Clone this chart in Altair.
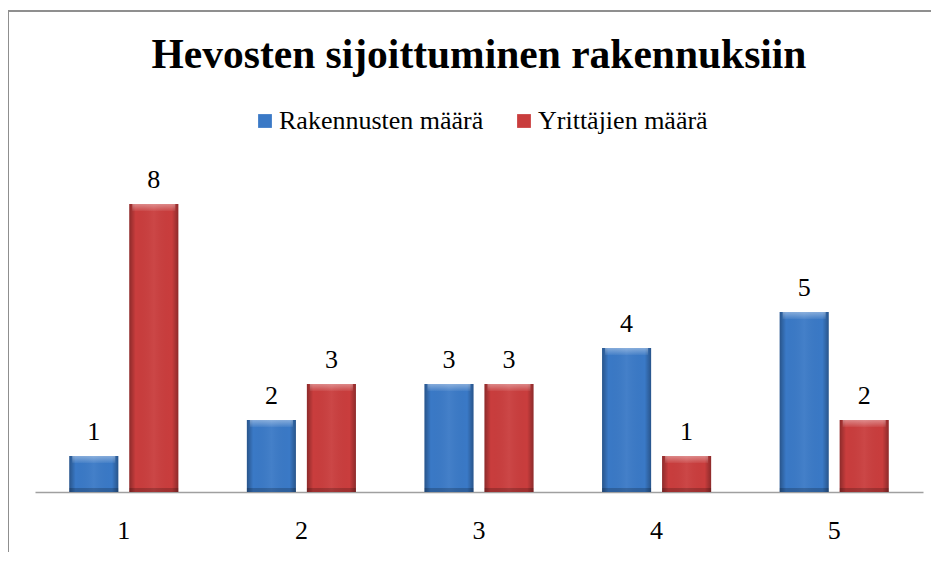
import altair as alt
import pandas as pd

categories = ["1", "2", "3", "4", "5"]
series_names = ["Rakennusten määrä", "Yrittäjien määrä"]
rakennusten = [1, 2, 3, 4, 5]
yrittajien = [8, 3, 3, 1, 2]
series_colors = ["#3a79c6", "#c93d3d"]

rows = []
for c, a, b in zip(categories, rakennusten, yrittajien):
    rows.append({"kat": c, "sarja": series_names[0], "arvo": a})
    rows.append({"kat": c, "sarja": series_names[1], "arvo": b})
df = pd.DataFrame(rows)

FONT = "Liberation Serif"

x_enc = alt.X("kat:N", sort=categories,
              scale=alt.Scale(paddingInner=0.386, paddingOuter=0.193),
              axis=alt.Axis(title=None, labelAngle=0, ticks=False, tickSize=0,
                            labelPadding=25, labelFont=FONT, labelFontSize=26,
                            labelColor="black", domainColor="#a0a0a0",
                            domainWidth=1.5))
xo_enc = alt.XOffset("sarja:N", sort=series_names,
                     scale=alt.Scale(domain=series_names, paddingInner=0.183,
                                     paddingOuter=0))
y_enc = alt.Y("arvo:Q", scale=alt.Scale(domain=[0, 9]), axis=None)

base = alt.Chart(df)

bars = base.mark_bar().encode(
    x=x_enc, xOffset=xo_enc, y=y_enc,
    color=alt.Color("sarja:N",
                    scale=alt.Scale(domain=series_names, range=series_colors),
                    legend=alt.Legend(title=None, orient="none", direction="horizontal",
                                      legendX=217, legendY=-60, symbolType="square",
                                      symbolSize=190, symbolStrokeWidth=0,
                                      labelFont=FONT, labelFontSize=26,
                                      labelColor="black", labelOffset=1,
                                      labelLimit=500,
                                      columnPadding=27, padding=0)),
)

shade = base.mark_bar(
    color=alt.Gradient(
        gradient="linear", x1=0, x2=1, y1=0, y2=0,
        stops=[alt.GradientStop(color="rgba(0,0,0,0.30)", offset=0),
               alt.GradientStop(color="rgba(0,0,0,0.0)", offset=0.13),
               alt.GradientStop(color="rgba(255,255,255,0.05)", offset=0.5),
               alt.GradientStop(color="rgba(0,0,0,0.0)", offset=0.87),
               alt.GradientStop(color="rgba(0,0,0,0.30)", offset=1)])
).encode(x=x_enc, xOffset=xo_enc, y=y_enc)

top_strip = base.mark_tick(
    orient="horizontal", size=43, thickness=7, yOffset=3.5,
    color=alt.Gradient(
        gradient="linear", x1=0, x2=0, y1=0, y2=1,
        stops=[alt.GradientStop(color="rgba(255,255,255,0.55)", offset=0),
               alt.GradientStop(color="rgba(255,255,255,0.08)", offset=1)])
).encode(x=x_enc, xOffset=xo_enc, y=y_enc)

bottom_strip = base.mark_tick(orient="horizontal", size=49, thickness=4,
                              yOffset=-2, color="black", opacity=0.2).encode(
    x=x_enc, xOffset=xo_enc,
    y=alt.Y("nolla:Q", scale=alt.Scale(domain=[0, 9]), axis=None)
).transform_calculate(nolla="0")

labels = base.mark_text(font=FONT, fontSize=26, color="black", dy=-24,
                        baseline="middle").encode(
    x=x_enc, xOffset=xo_enc, y=y_enc, text=alt.Text("arvo:Q"))

frame_data = alt.Data(values=[{"k": 1}])
frame_top = alt.Chart(frame_data).mark_rule(color="#8f8f8f", strokeWidth=2).encode(
    x=alt.value(-27), x2=alt.value(920), y=alt.value(-157))
frame_left = alt.Chart(frame_data).mark_rule(color="#8f8f8f", strokeWidth=2).encode(
    x=alt.value(-27), y=alt.value(-157), y2=alt.value(440))

chart = alt.layer(
    frame_top, frame_left, bars, shade, top_strip, bottom_strip, labels
).properties(
    width=888, height=324,
    autosize=alt.AutoSizeParams(type="none"),
    padding={"left": 27, "top": 160, "right": 8, "bottom": 60},
    title=alt.TitleParams("Hevosten sijoittuminen rakennuksiin", font=FONT,
                          fontSize=41.5, fontWeight="bold", color="black",
                          anchor="middle", dy=70),
).configure(background="white").configure_view(stroke=None)

chart.save("out.html", embed_options={"renderer": "svg", "actions": False})
